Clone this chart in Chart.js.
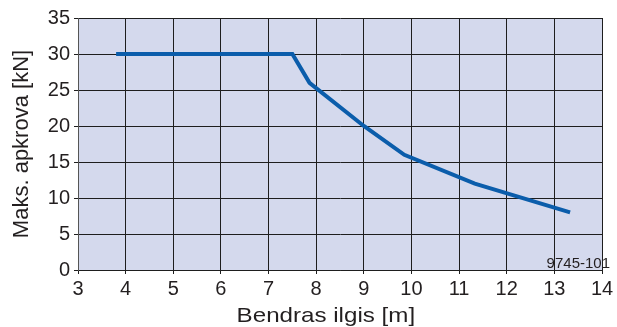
<!DOCTYPE html>
<html>
<head>
<meta charset="utf-8">
<script src="https://cdn.jsdelivr.net/npm/chart.js@4/dist/chart.umd.min.js"></script>
<style>
  html, body { margin: 0; padding: 0; background: #ffffff; }
  #wrap { width: 617px; height: 327px; }
</style>
</head>
<body>
<div id="wrap"><canvas id="c" width="617" height="327"></canvas></div>
<script>
// Boom length [m] and the maximum permitted load [kN] at each length
const lengths = [3.8, 7.5, 7.86, 9.0, 9.85, 11.33, 13.33];
const maxLoads = [30, 30, 26, 20, 16, 12, 8];

// Axis tick values
const xTickValues = [3, 4, 5, 6, 7, 8, 9, 10, 11, 12, 13, 14];
const yTickValues = [0, 5, 10, 15, 20, 25, 30, 35];

const xTitle = 'Bendras ilgis [m]';
const yTitle = 'Maks. apkrova [kN]';
const drawingCode = '9745-101';

const FONT = '"Liberation Sans", Arial, Helvetica, sans-serif';
const TEXT = '#231f20';

// Fills the plot area, writes the x-axis caption (slightly widened, left of centre)
// and the drawing number in the plot's lower-right corner
const plotDecor = {
  id: 'plotDecor',
  beforeDraw(chart) {
    const { ctx, chartArea: a } = chart;
    ctx.save();
    ctx.fillStyle = '#d4d9ed';
    ctx.fillRect(a.left, a.top, a.right - a.left, a.bottom - a.top);
    ctx.restore();
  },
  afterDraw(chart) {
    const { ctx, chartArea: a } = chart;
    ctx.save();
    ctx.font = '15px ' + FONT;
    ctx.fillStyle = TEXT;
    ctx.textAlign = 'right';
    ctx.textBaseline = 'alphabetic';
    ctx.fillText(drawingCode, a.right + 8, a.bottom - 2);
    ctx.restore();

    ctx.save();
    ctx.font = '21px ' + FONT;
    ctx.fillStyle = TEXT;
    ctx.textAlign = 'center';
    ctx.textBaseline = 'alphabetic';
    ctx.translate(a.left + (a.right - a.left) * 0.473, chart.height - 5);
    ctx.scale(1.15, 1);
    ctx.fillText(xTitle, 0, 0);
    ctx.restore();
  }
};

new Chart(document.getElementById('c'), {
  type: 'line',
  data: {
    datasets: [{
      data: lengths.map((x, i) => ({ x, y: maxLoads[i] })),
      borderColor: '#0b5dab',
      borderWidth: 4,
      borderCapStyle: 'butt',
      borderJoinStyle: 'miter',
      pointRadius: 0,
      tension: 0,
      fill: false
    }]
  },
  options: {
    responsive: false,
    devicePixelRatio: 1,
    animation: false,
    layout: { padding: { left: 0, right: 15, top: 18, bottom: 0 } },
    plugins: { legend: { display: false }, tooltip: { enabled: false } },
    scales: {
      x: {
        type: 'linear',
        min: 3,
        max: 14,
        afterBuildTicks(scale) { scale.ticks = xTickValues.map(v => ({ value: v })); },
        afterFit(scale) { scale.height = 57; },
        grid: { color: '#1e1e1e', lineWidth: 1, tickLength: 4, tickColor: '#1e1e1e' },
        border: { display: true, color: '#1e1e1e', width: 1 },
        ticks: {
          color: TEXT,
          font: { family: FONT, size: 20 },
          padding: 3,
          maxRotation: 0,
          autoSkip: false
        },
        title: { display: false }
      },
      y: {
        type: 'linear',
        min: 0,
        max: 35,
        afterBuildTicks(scale) { scale.ticks = yTickValues.map(v => ({ value: v })); },
        afterFit(scale) { scale.width = 78; },
        grid: { color: '#1e1e1e', lineWidth: 1, tickLength: 4, tickColor: '#1e1e1e' },
        border: { display: true, color: '#555555', width: 1 },
        ticks: {
          color: TEXT,
          font: { family: FONT, size: 20 },
          padding: 4,
          autoSkip: false
        },
        title: {
          display: true,
          text: yTitle,
          color: TEXT,
          font: { family: FONT, size: 22, lineHeight: 1 },
          padding: { top: 11, bottom: 0 }
        }
      }
    }
  },
  plugins: [plotDecor]
});
</script>
</body>
</html>
